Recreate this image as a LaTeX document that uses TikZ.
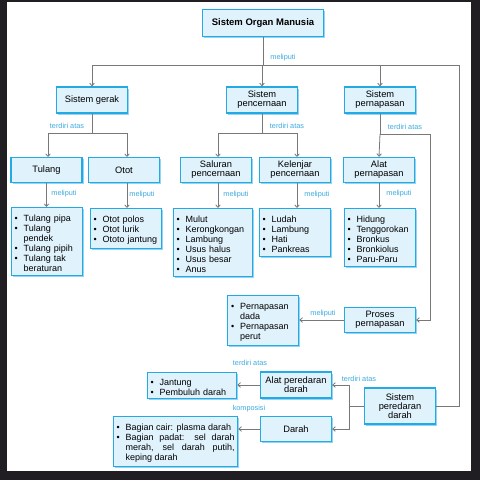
\documentclass[tikz,border=0pt]{standalone}
\usepackage{fontspec}
\setmainfont{Liberation Sans}
\usetikzlibrary{arrows.meta,shadows}
\definecolor{frame}{RGB}{32,30,34}
\definecolor{boxline}{RGB}{35,170,228}
\definecolor{boxfill}{RGB}{224,242,252}
\definecolor{boxshade}{RGB}{150,212,242}
\definecolor{linegray}{RGB}{120,120,120}
\definecolor{lblblue}{RGB}{60,170,225}
\tikzset{%
  tipV/.tip={Straight Barb[length=2.6pt,width=4.6pt]},
  sbox/.style={draw=boxline, line width=1.3pt, fill=boxfill,
    drop shadow={shadow xshift=1.6pt,shadow yshift=-1.6pt,fill=boxshade,opacity=1},
    align=center, font=\fontsize{9.3}{9}\selectfont,
    minimum width=71pt, minimum height=25pt, inner sep=1pt},
  slist/.style={sbox, align=left, anchor=north west, minimum height=0pt,
    inner xsep=3pt, inner ysep=4pt, font=\fontsize{9}{10}\selectfont},
  conn/.style={draw=linegray, line width=0.8pt},
  arr/.style={conn, -tipV},
  lbl/.style={text=lblblue, font=\fontsize{7.3}{8}\selectfont, inner sep=1pt}
}
\newcommand{\lstart}{\leftskip=9pt\parindent=-9pt\hyphenpenalty=10000\exhyphenpenalty=10000\relax}
\newcommand{\itm}[1]{\par\makebox[9pt][l]{\textbullet}#1\par}

\begin{document}
\begin{tikzpicture}[x=1pt,y=-1pt]
\fill[frame] (0,0) rectangle (480,480);
\fill[white] (7,2) rectangle (471,471);
\useasboundingbox (0,0) rectangle (480,480);

% kotak utama
\node[sbox, font=\fontsize{9.5}{10}\selectfont\bfseries, minimum width=121pt, minimum height=27pt] (manusia) at (263,23) {Sistem Organ Manusia};
\node[sbox, minimum height=26pt] (gerak) at (92,100) {Sistem gerak};
\node[sbox, minimum height=26pt] (cerna) at (262,100) {Sistem\\pencernaan};
\node[sbox, minimum height=26pt] (napas) at (380,100) {Sistem\\pernapasan};

\node[sbox] (tulang) at (46.5,170) {Tulang};
\node[sbox] (otot) at (124,170) {Otot};
\node[sbox] (saluran) at (216,170) {Saluran\\pencernaan};
\node[sbox] (kelenjar) at (295,170) {Kelenjar\\pencernaan};
\node[sbox] (alat) at (379,170) {Alat\\pernapasan};

\node[sbox] (proses) at (380,320) {Proses\\pernapasan};
\node[sbox, minimum height=26pt] (alatdarah) at (296,385) {Alat peredaran\\darah};
\node[sbox] (darah) at (296,429) {Darah};
\node[sbox, minimum height=36pt] (siredar) at (400,406) {Sistem\\peredaran\\darah};

% daftar
\node[slist, text width=65pt] (ltulang) at (11,207) {\lstart\itm{Tulang pipa}\itm{Tulang pendek}\itm{Tulang pipih}\itm{Tulang tak beraturan}};
\node[slist, text width=65pt] (lotot) at (90,208) {\lstart\itm{Otot polos}\itm{Otot lurik}\itm{Ototo jantung}};
\node[slist, text width=73pt] (lsaluran) at (173,208) {\lstart\itm{Mulut}\itm{Kerongkongan}\itm{Lambung}\itm{Usus halus}\itm{Usus besar}\itm{Anus}};
\node[slist, text width=65pt] (lkelenjar) at (259,208) {\lstart\itm{Ludah}\itm{Lambung}\itm{Hati}\itm{Pankreas}};
\node[slist, text width=65pt] (lalat) at (344,208) {\lstart\itm{Hidung}\itm{Tenggorokan}\itm{Bronkus}\itm{Bronkiolus}\itm{Paru-Paru}};
\node[slist, text width=64pt] (lproses) at (227,295) {\lstart\itm{Pernapasan dada}\itm{Pernapasan perut}};
\node[slist, text width=83pt, inner ysep=3pt] (ljantung) at (147,372) {\lstart\itm{Jantung}\itm{Pembuluh darah}};
\node[slist, text width=118pt, align=justify] (ldarah) at (113,416) {\lstart\itm{Bagian cair: plasma darah}\itm{Bagian padat: sel darah merah, sel darah putih, keping darah}};

% garis penghubung
\coordinate (bus) at (263,65);
\coordinate (busR) at (459,65);
\draw[conn] (manusia) -- (bus);
\draw[conn] (bus -| gerak) -- (busR) |- (siredar.east);
\foreach \s in {gerak,cerna,napas}
  \draw[arr] (bus -| \s) -- (\s.north);

\coordinate (busG) at (92,133);
\draw[conn] (gerak) -- (busG);
\draw[conn] (48,133) -- (127,133);
\draw[arr] (48,133) -- (48,157);
\draw[arr] (127,133) -- (127,157);

\coordinate (busC) at (262,133);
\draw[conn] (cerna) -- (busC);
\draw[conn] (218,133) -- (297,133);
\draw[arr] (218,133) -- (218,157);
\draw[arr] (297,133) -- (297,157);

\coordinate (busN) at (430,134);
\draw[conn] (napas.south) |- (busN);
\draw[arr] (napas.south |- busN) -- (alat.north);
\draw[arr] (busN) |- (proses.east);

\draw[arr] (tulang.south) -- (tulang.south |- ltulang.north);
\draw[arr] (otot.south -| 127,0) -- (127,208);
\draw[arr] (saluran.south -| 218,0) -- (218,208);
\draw[arr] (kelenjar.south -| 297,0) -- (297,208);
\draw[arr] (alat.south) -- (alat.south |- lalat.north);

\draw[arr] (proses.west) -- (proses.west -| lproses.east);
\coordinate (split) at (349,406);
\draw[conn] (siredar.west) -- (split);
\draw[arr] (split) |- (alatdarah.east);
\draw[arr] (split) |- (darah.east);
\draw[arr] (alatdarah.west) -- (alatdarah.west -| ljantung.east);
\draw[arr] (darah.west) -- (darah.west -| ldarah.east);

% label
\node[lbl] (m0) at (283,58) {meliputi};
\node[lbl] (t1) at (67,126) {terdiri atas};
\node[lbl] (t2) at (287,126) {terdiri atas};
\node[lbl] (t3) at (405,127) {terdiri atas};
\foreach \x/\y [count=\i] in {64/194,142/195,236/195,317/195,399/194}
  \node[lbl] (m\i) at (\x,\y) {meliputi};
\node[lbl] (m6) at (323,314) {meliputi};
\node[lbl] (t4) at (250,363) {terdiri atas};
\node[lbl] (t5) at (359,379) {terdiri atas};
\node[lbl] (k1) at (249,409) {komposisi};
\end{tikzpicture}
\end{document}
